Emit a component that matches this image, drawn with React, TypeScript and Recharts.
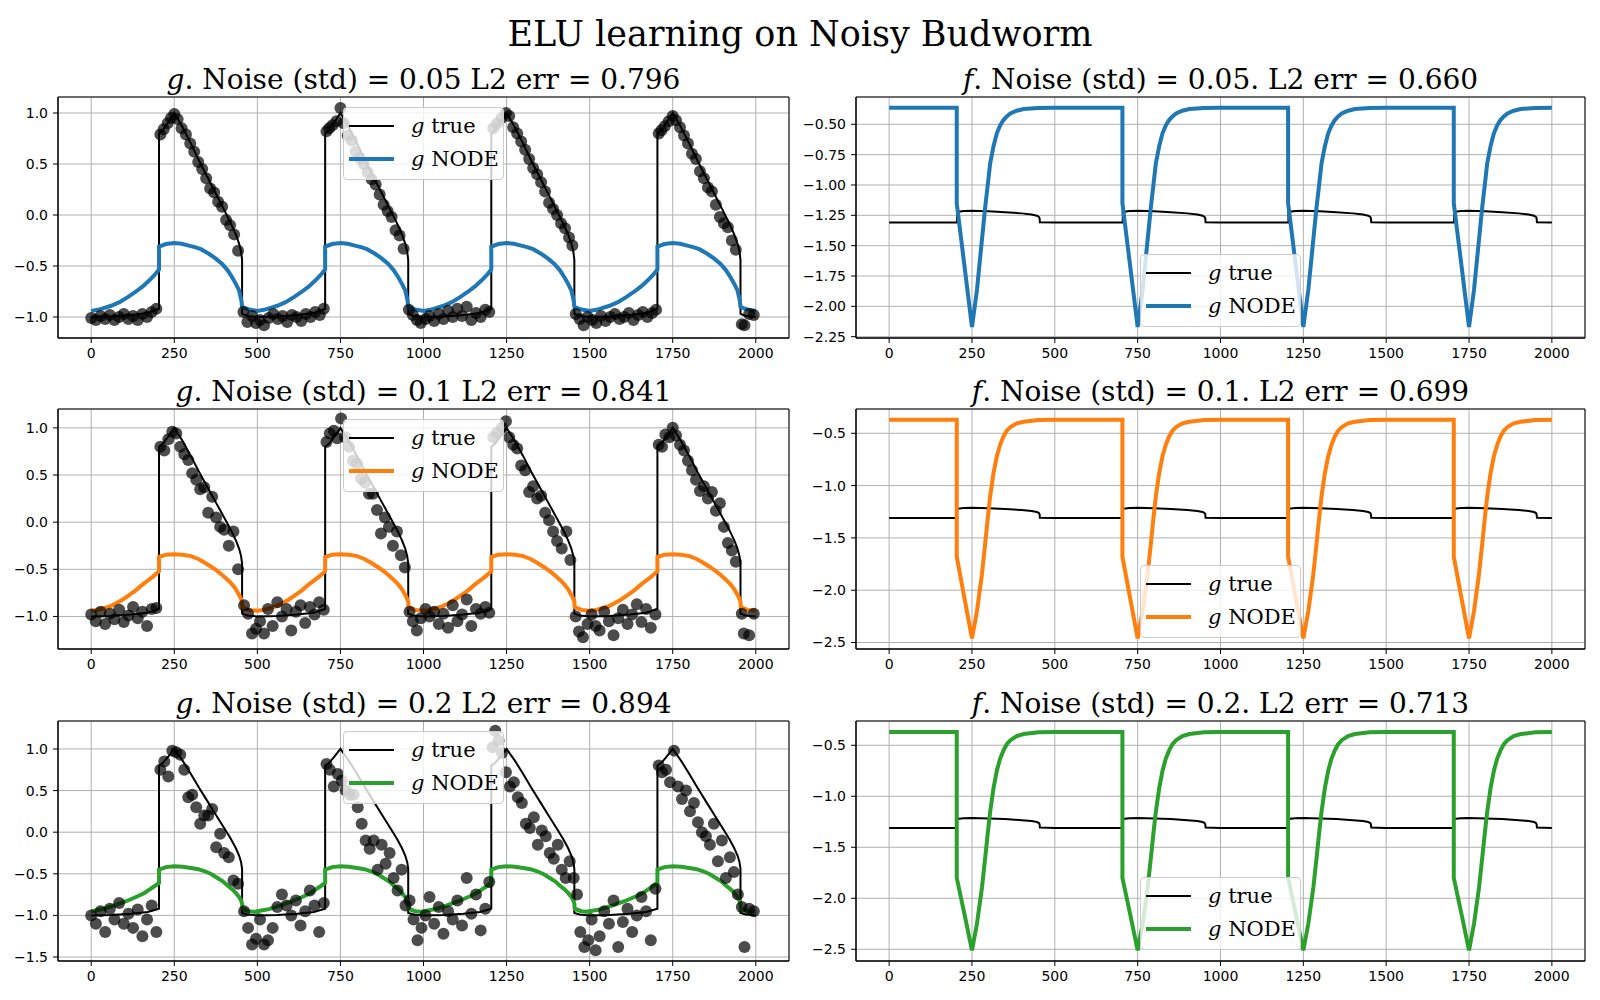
import React from 'react';
import { ComposedChart, Line, Scatter, XAxis, YAxis, CartesianGrid, Legend, ReferenceArea } from 'recharts';

const X_TICKS = [0, 250, 500, 750, 1000, 1250, 1500, 1750, 2000];
const PERIOD_STARTS = [0, 500, 1000, 1500];

const NOISE = ['0.05', '0.1', '0.2'];
const G_ERR = ['0.796', '0.841', '0.894'];
const F_ERR = ['0.660', '0.699', '0.713'];
const NODE_COLORS = ['#1f77b4', '#ff7f0e', '#2ca02c'];

// one period (t in 0..500) of each curve
const G_TRUE_CYCLE = [
  [0, -1.0], [60, -0.995], [120, -0.98], [170, -0.96], [204, -0.92], [204, 0.8], [215, 0.83], [230, 0.9],
  [250, 1.0], [275, 0.86], [300, 0.7], [325, 0.53], [350, 0.37], [375, 0.21], [400, 0.05], [420, -0.08],
  [435, -0.19], [445, -0.28], [451, -0.36], [454, -0.44], [454, -0.97], [470, -0.99], [500, -1.0],
];
const G_NODE_CYCLE_05 = [
  [0, -0.94], [20, -0.93], [35, -0.915], [60, -0.89], [85, -0.855], [110, -0.805], [135, -0.75], [155, -0.7],
  [175, -0.64], [190, -0.59], [204, -0.535], [204, -0.31], [225, -0.285], [250, -0.275], [272, -0.282],
  [294, -0.3], [312, -0.315], [330, -0.335], [354, -0.38], [374, -0.425], [394, -0.48], [410, -0.54],
  [424, -0.61], [436, -0.68], [445, -0.74], [452, -0.84], [454, -0.9], [465, -0.915], [480, -0.93], [500, -0.94],
];
const G_NODE_CYCLE_10 = [
  [0, -0.94], [20, -0.93], [40, -0.91], [58, -0.89], [75, -0.86], [95, -0.82], [115, -0.77], [135, -0.72],
  [155, -0.66], [170, -0.62], [185, -0.58], [204, -0.52], [204, -0.37], [225, -0.345], [250, -0.34], [275, -0.345],
  [300, -0.36], [322, -0.39], [342, -0.43], [362, -0.475], [380, -0.52], [396, -0.565], [410, -0.61], [424, -0.66],
  [435, -0.71], [448, -0.79], [454, -0.84], [455, -0.9], [475, -0.93], [500, -0.94],
];
const G_NODE_CYCLE_20 = [
  [0, -0.95], [35, -0.925], [70, -0.88], [105, -0.83], [140, -0.77], [160, -0.73], [175, -0.69], [190, -0.65],
  [204, -0.61], [204, -0.45], [225, -0.42], [250, -0.41], [275, -0.415], [300, -0.43], [322, -0.445], [342, -0.47],
  [362, -0.505], [380, -0.55], [396, -0.59], [410, -0.64], [424, -0.685], [435, -0.73], [445, -0.78], [451, -0.82],
  [454, -0.86], [455, -0.92], [475, -0.95], [500, -0.96],
];
const F_TRUE_CYCLE = [
  [0, -1.31], [100, -1.31], [205, -1.31], [205, -1.222], [225, -1.215], [250, -1.213], [300, -1.217], [350, -1.224],
  [400, -1.234], [430, -1.243], [446, -1.253], [452, -1.263], [454, -1.275], [455, -1.307], [500, -1.31],
];
const F_NODE_CYCLE_05 = [
  [0, -0.363], [204, -0.363], [204, -1.15], [227, -1.66], [250, -2.17], [265, -1.865], [280, -1.453], [290, -1.18],
  [298, -0.99], [305, -0.82], [315, -0.68], [325, -0.574], [335, -0.51], [345, -0.465], [355, -0.435], [366, -0.41],
  [385, -0.388], [406, -0.374], [450, -0.365], [500, -0.363],
];
const F_NODE_CYCLE_10 = [
  [0, -0.37], [204, -0.37], [204, -1.68], [227, -2.07], [250, -2.46], [265, -2.2], [280, -1.85], [290, -1.55],
  [298, -1.3], [305, -1.1], [315, -0.88], [325, -0.72], [335, -0.61], [345, -0.53], [355, -0.475], [366, -0.44],
  [385, -0.405], [406, -0.39], [450, -0.373], [500, -0.37],
];
const F_NODE_CYCLE_20 = [
  [0, -0.37], [204, -0.37], [204, -1.8], [227, -2.15], [250, -2.51], [265, -2.25], [280, -1.9], [290, -1.6],
  [298, -1.35], [305, -1.15], [315, -0.92], [325, -0.75], [335, -0.63], [345, -0.55], [355, -0.49], [366, -0.45],
  [385, -0.41], [406, -0.39], [450, -0.373], [500, -0.37],
];

// noisy observations
const OBS_05 = [
  [0, -1.01], [14, -1.03], [28, -0.99], [42, -1.02], [56, -0.98], [70, -1.03], [84, -1.0], [98, -0.97], [112, -1.02], [126, -0.99],
  [140, -1.03], [154, -0.97], [168, -1.0], [182, -0.95], [196, -0.92], [208, 0.79], [218, 0.84], [230, 0.9], [240, 0.95], [250, 0.99],
  [260, 0.94], [272, 0.85], [285, 0.79], [298, 0.7], [310, 0.62], [322, 0.52], [334, 0.45], [346, 0.36], [358, 0.26], [370, 0.22],
  [382, 0.13], [394, 0.08], [406, -0.05], [418, -0.1], [430, -0.19], [442, -0.35], [458, -0.95], [470, -1.05], [484, -0.99], [496, -1.06],
  [508, -1.03], [520, -1.08], [534, -1.01], [548, -0.97], [562, -1.02], [576, -0.99], [590, -1.05], [604, -0.98], [618, -1.0], [632, -1.04],
  [646, -0.97], [660, -1.0], [674, -0.95], [688, -0.98], [700, -0.92], [708, 0.82], [716, 0.85], [726, 0.88], [738, 0.92], [750, 1.05],
  [760, 0.9], [772, 0.78], [784, 0.73], [796, 0.62], [808, 0.56], [820, 0.5], [832, 0.42], [844, 0.35], [856, 0.3], [868, 0.2],
  [880, 0.1], [892, 0.04], [904, -0.02], [916, -0.15], [928, -0.2], [940, -0.33], [956, -0.93], [968, -0.98], [980, -1.03], [992, -1.06],
  [1006, -1.02], [1018, -0.99], [1032, -1.04], [1046, -0.97], [1060, -1.02], [1074, -0.94], [1088, -1.0], [1102, -0.92], [1116, -0.99], [1130, -0.9],
  [1144, -1.03], [1158, -0.96], [1172, -1.0], [1186, -0.93], [1198, -0.95], [1210, 0.85], [1222, 0.9], [1235, 0.95], [1248, 1.0], [1258, 0.97],
  [1270, 0.86], [1282, 0.8], [1294, 0.72], [1306, 0.64], [1318, 0.55], [1330, 0.46], [1342, 0.4], [1354, 0.32], [1366, 0.23], [1378, 0.12],
  [1390, 0.06], [1402, 0.0], [1414, -0.08], [1426, -0.13], [1438, -0.22], [1448, -0.3], [1458, -0.97], [1470, -1.02], [1482, -1.08], [1494, -1.0],
  [1508, -1.03], [1520, -1.06], [1534, -0.99], [1548, -1.04], [1562, -1.0], [1576, -0.97], [1590, -1.02], [1604, -1.0], [1618, -0.96], [1632, -1.03],
  [1646, -0.98], [1660, -0.95], [1674, -1.0], [1688, -0.96], [1700, -0.93], [1708, 0.8], [1716, 0.83], [1726, 0.87], [1738, 0.92], [1750, 0.97],
  [1760, 0.93], [1772, 0.86], [1784, 0.78], [1796, 0.7], [1808, 0.6], [1820, 0.55], [1832, 0.43], [1844, 0.36], [1856, 0.27], [1868, 0.23],
  [1880, 0.1], [1892, -0.02], [1904, -0.08], [1916, -0.12], [1928, -0.25], [1940, -0.34], [1958, -1.07], [1966, -1.08], [1980, -0.97], [1994, -0.98],
];
const OBS_10 = [
  [0, -0.98], [14, -1.05], [28, -0.95], [42, -1.08], [56, -0.97], [70, -1.03], [84, -0.93], [98, -1.06], [112, -0.99], [126, -0.9],
  [140, -1.02], [154, -0.95], [168, -1.1], [182, -0.92], [196, -0.91], [208, 0.8], [220, 0.76], [232, 0.88], [244, 0.96], [256, 0.94],
  [268, 0.8], [280, 0.72], [292, 0.66], [304, 0.52], [316, 0.45], [328, 0.35], [340, 0.37], [352, 0.1], [364, 0.27], [376, 0.05],
  [388, -0.05], [400, -0.08], [414, -0.25], [428, -0.1], [442, -0.5], [460, -0.88], [472, -0.97], [484, -1.18], [496, -1.13],
  [508, -1.05], [520, -1.18], [532, -0.92], [546, -1.1], [560, -0.85], [574, -1.0], [588, -0.92], [602, -1.15], [616, -0.95], [630, -0.88],
  [644, -1.07], [658, -0.9], [672, -0.98], [686, -0.85], [700, -0.93], [708, 0.85], [718, 0.94], [730, 0.97], [740, 0.89], [752, 1.1],
  [764, 0.9], [776, 0.8], [788, 0.65], [800, 0.62], [812, 0.46], [824, 0.42], [836, 0.3], [848, 0.3], [860, 0.13], [872, -0.12],
  [884, 0.05], [896, -0.05], [908, -0.25], [920, -0.1], [932, -0.35], [944, -0.48], [958, -0.95], [968, -1.05], [980, -1.15], [992, -1.02],
  [1006, -0.92], [1018, -1.0], [1032, -0.95], [1046, -1.08], [1060, -0.97], [1074, -1.12], [1088, -0.88], [1102, -1.05], [1116, -0.98], [1130, -0.82],
  [1144, -1.1], [1158, -0.92], [1172, -0.97], [1186, -0.9], [1198, -0.96], [1210, 0.9], [1222, 0.95], [1236, 1.0], [1248, 1.07], [1258, 0.9],
  [1270, 0.82], [1282, 0.78], [1294, 0.6], [1306, 0.55], [1318, 0.32], [1330, 0.38], [1342, 0.25], [1354, 0.28], [1366, 0.1], [1378, 0.02],
  [1390, -0.1], [1402, -0.2], [1416, -0.28], [1430, -0.1], [1442, -0.4], [1458, -1.0], [1468, -1.16], [1480, -1.22], [1494, -1.08],
  [1506, -0.98], [1518, -1.1], [1530, -1.15], [1544, -0.95], [1558, -1.05], [1572, -1.2], [1586, -1.02], [1600, -0.93], [1614, -1.08], [1628, -0.98],
  [1642, -0.87], [1656, -1.06], [1670, -0.92], [1684, -1.12], [1698, -0.98], [1708, 0.82], [1718, 0.8], [1728, 0.93], [1740, 0.9], [1750, 1.0],
  [1760, 0.92], [1772, 0.82], [1784, 0.76], [1796, 0.65], [1808, 0.55], [1820, 0.45], [1832, 0.33], [1844, 0.38], [1856, 0.25], [1868, 0.32],
  [1880, 0.12], [1892, 0.2], [1904, -0.05], [1916, -0.22], [1928, -0.3], [1940, -0.42], [1958, -0.97], [1964, -1.18], [1980, -1.2], [1994, -0.97],
];
const OBS_20 = [
  [0, -1.0], [14, -1.1], [28, -0.95], [42, -1.2], [56, -0.92], [70, -1.05], [84, -0.85], [98, -1.1], [112, -0.98], [126, -1.15],
  [140, -0.93], [154, -1.25], [168, -1.05], [182, -0.88], [196, -1.2], [208, 0.75], [220, 0.85], [232, 0.67], [244, 0.98], [256, 0.96],
  [268, 0.93], [280, 0.75], [292, 0.42], [304, 0.45], [316, 0.3], [328, 0.1], [340, 0.2], [352, 0.2], [364, 0.28], [376, -0.18],
  [388, -0.02], [400, -0.25], [414, -0.3], [428, -0.58], [442, -0.62], [460, -0.95], [472, -1.15], [484, -1.35], [496, -1.28],
  [508, -1.05], [520, -1.35], [532, -1.3], [546, -1.15], [560, -0.9], [574, -0.75], [588, -0.88], [602, -1.0], [616, -0.82], [630, -1.12],
  [644, -0.95], [658, -0.7], [672, -0.88], [686, -1.2], [700, -0.85], [708, 0.82], [718, 0.75], [730, 0.55], [742, 0.7], [754, 0.62],
  [766, 0.5], [778, 0.45], [790, 0.45], [802, 0.3], [814, 0.1], [826, -0.1], [838, -0.2], [850, -0.1], [862, -0.45], [874, -0.15],
  [886, -0.38], [898, -0.25], [910, -0.55], [922, -0.7], [934, -0.45], [946, -0.88], [958, -0.82], [970, -1.05], [982, -1.3], [994, -1.15],
  [1006, -1.0], [1018, -0.78], [1032, -1.1], [1046, -0.9], [1060, -1.22], [1074, -0.95], [1088, -1.05], [1102, -0.82], [1116, -1.12], [1130, -0.55],
  [1144, -0.98], [1158, -0.75], [1172, -1.18], [1186, -0.92], [1198, -0.6], [1208, 1.02], [1216, 1.22], [1226, 1.1], [1236, 0.95], [1248, 0.72],
  [1260, 0.55], [1272, 0.6], [1284, 0.42], [1296, 0.35], [1308, 0.1], [1320, 0.05], [1332, 0.18], [1344, -0.15], [1356, 0.02], [1368, -0.05],
  [1380, -0.25], [1392, -0.32], [1404, -0.15], [1416, -0.45], [1428, -0.55], [1440, -0.35], [1452, -0.55], [1462, -0.75], [1472, -1.2], [1484, -1.38], [1496, -1.3],
  [1506, -1.05], [1518, -1.42], [1530, -1.25], [1544, -0.95], [1558, -1.1], [1572, -0.82], [1586, -1.38], [1600, -1.08], [1614, -0.92], [1628, -1.2],
  [1642, -1.0], [1656, -0.78], [1670, -0.95], [1684, -1.3], [1698, -0.68], [1708, 0.8], [1718, 0.72], [1730, 0.75], [1742, 0.6], [1754, 0.98],
  [1766, 0.55], [1778, 0.4], [1790, 0.5], [1802, 0.25], [1814, 0.35], [1826, 0.12], [1838, 0.0], [1850, -0.05], [1862, -0.15], [1874, 0.1],
  [1886, -0.35], [1898, -0.1], [1910, -0.55], [1922, -0.3], [1934, -0.48], [1946, -0.75], [1958, -0.9], [1966, -1.38], [1980, -0.92], [1994, -0.95],
];

const repeatCycle = (cycle: number[][]) =>
  PERIOD_STARTS.flatMap((p) => cycle.map(([t, v]) => ({ t: t + p, v })));
const toPoints = (arr: number[][]) => arr.map(([t, v]) => ({ t, v }));

const G_TRUE = repeatCycle(G_TRUE_CYCLE);
const F_TRUE = repeatCycle(F_TRUE_CYCLE);
const G_NODE = [G_NODE_CYCLE_05, G_NODE_CYCLE_10, G_NODE_CYCLE_20].map(repeatCycle);
const F_NODE = [F_NODE_CYCLE_05, F_NODE_CYCLE_10, F_NODE_CYCLE_20].map(repeatCycle);
const OBS = [OBS_05, OBS_10, OBS_20].map(toPoints);

// layout (pixels) and axis settings
const ROW_TOP = [97, 409, 721];
const ROW_H = [241, 240, 240];
const G_DOMAIN = [[-1.206, 1.157], [-1.345, 1.2], [-1.548, 1.336]];
const G_TICKS = [[-1, -0.5, 0, 0.5, 1], [-1, -0.5, 0, 0.5, 1], [-1.5, -1, -0.5, 0, 0.5, 1]];
const F_DOMAIN = [[-2.261, -0.275], [-2.562, -0.268], [-2.615, -0.262]];
const F_TICKS = [
  [-2.25, -2, -1.75, -1.5, -1.25, -1, -0.75, -0.5],
  [-2.5, -2, -1.5, -1, -0.5],
  [-2.5, -2, -1.5, -1, -0.5],
];
const F_DIGITS = [2, 1, 1];

const SERIF = '"DejaVu Serif", serif';
const SANS = '"DejaVu Sans", sans-serif';

const fmt = (digits: number) => (v: number) =>
  (v < 0 ? '\u2212' : '') + Math.abs(v).toFixed(digits);

const LegendBox = ({ color }: { color: string }) => {
  const row = (top: number, lineColor: string, lineW: number, label: string) => (
    <div style={{ position: 'absolute', left: 0, top: top - 11, height: 22, width: '100%' }}>
      <div style={{ position: 'absolute', left: 5, top: 11 - lineW / 2, width: 45, height: lineW, background: lineColor }} />
      <div style={{ position: 'absolute', left: 67, top: 0, lineHeight: '22px', whiteSpace: 'nowrap', color: '#000' }}>
        <i>g</i> {label}
      </div>
    </div>
  );
  return (
    <div
      style={{
        position: 'relative', width: 161, height: 73, boxSizing: 'border-box',
        border: '1px solid #cccccc', borderRadius: 4, background: 'rgba(255,255,255,0.8)',
        fontFamily: SERIF, fontSize: 21,
      }}
    >
      {row(18, '#000', 2, 'true')}
      {row(51, color, 4, 'NODE')}
    </div>
  );
};

interface PanelProps {
  left: number;
  top: number;
  yWidth: number;
  plotW: number;
  plotH: number;
  domain: number[];
  ticks: number[];
  digits: number;
  trueData: { t: number; v: number }[];
  nodeData: { t: number; v: number }[];
  points?: { t: number; v: number }[];
  color: string;
  legendLeft: number;
  legendTop: number;
}

const Panel: React.FC<PanelProps> = ({
  left, top, yWidth, plotW, plotH, domain, ticks, digits, trueData, nodeData, points, color, legendLeft, legendTop,
}) => {
  const margin = { top: 5, right: 10, bottom: 0, left: 0 };
  const xH = 30;
  const tickStyle = { fill: '#000', fontSize: 14, fontFamily: SANS };
  return (
    <div style={{ position: 'absolute', left, top: top - margin.top }}>
      <ComposedChart
        width={yWidth + plotW + margin.right}
        height={margin.top + plotH + xH}
        margin={margin}
      >
        <CartesianGrid stroke="#b0b0b0" strokeWidth={1} />
        <XAxis
          type="number"
          dataKey="t"
          domain={[-100, 2100]}
          ticks={X_TICKS}
          interval={0}
          allowDataOverflow
          height={xH}
          tickSize={5}
          tickMargin={5}
          tick={tickStyle}
          stroke="#000"
        />
        <YAxis
          type="number"
          dataKey="v"
          domain={domain}
          ticks={ticks}
          interval={0}
          allowDataOverflow
          width={yWidth}
          tickSize={5}
          tickMargin={5}
          tick={tickStyle}
          tickFormatter={fmt(digits)}
          stroke="#000"
        />
        {points && (
          <Scatter
            data={points}
            isAnimationActive={false}
            shape={(p: any) => <circle cx={p.cx} cy={p.cy} r={6} fill="#000" fillOpacity={0.7} />}
          />
        )}
        <Line data={trueData} dataKey="v" type="linear" stroke="#000" strokeWidth={2} dot={false} isAnimationActive={false} />
        <Line data={nodeData} dataKey="v" type="linear" stroke={color} strokeWidth={4} dot={false} isAnimationActive={false} />
        <ReferenceArea
          x1={-100}
          x2={2100}
          y1={domain[0]}
          y2={domain[1]}
          fill="none"
          stroke="#000"
          strokeWidth={1}
          ifOverflow="visible"
        />
        <Legend
          layout="horizontal"
          verticalAlign="middle"
          align="center"
          wrapperStyle={{ left: legendLeft, top: legendTop, width: 161 }}
          content={() => <LegendBox color={color} />}
        />
      </ComposedChart>
    </div>
  );
};

export default function App() {
  return (
    <div style={{ position: 'absolute', left: 0, top: 0, width: 1600, height: 1000, background: '#fff', overflow: 'hidden' }}>
      <svg width={1600} height={1000} style={{ position: 'absolute', left: 0, top: 0 }}>
        <text x={800} y={46} textAnchor="middle" fontFamily={SERIF} fontSize={35} fill="#000">
          ELU learning on Noisy Budworm
        </text>
        {ROW_TOP.map((rt, i) => (
          <React.Fragment key={i}>
            <text x={423.5} y={rt - 8} textAnchor="middle" fontFamily={SERIF} fontSize={28} fill="#000">
              <tspan fontStyle="italic">g</tspan>
              <tspan>{`. Noise (std) = ${NOISE[i]} L2 err = ${G_ERR[i]}`}</tspan>
            </text>
            <text x={1220.5} y={rt - 8} textAnchor="middle" fontFamily={SERIF} fontSize={28} fill="#000">
              <tspan fontStyle="italic">f</tspan>
              <tspan>{`. Noise (std) = ${NOISE[i]}. L2 err = ${F_ERR[i]}`}</tspan>
            </text>
          </React.Fragment>
        ))}
      </svg>
      {ROW_TOP.map((rt, i) => (
        <React.Fragment key={i}>
          <Panel
            left={0}
            top={rt}
            yWidth={58}
            plotW={731}
            plotH={ROW_H[i]}
            domain={G_DOMAIN[i]}
            ticks={G_TICKS[i]}
            digits={1}
            trueData={G_TRUE}
            nodeData={G_NODE[i]}
            points={OBS[i]}
            color={NODE_COLORS[i]}
            legendLeft={343}
            legendTop={15}
          />
          <Panel
            left={786}
            top={rt}
            yWidth={70}
            plotW={729}
            plotH={ROW_H[i]}
            domain={F_DOMAIN[i]}
            ticks={F_TICKS[i]}
            digits={F_DIGITS[i]}
            trueData={F_TRUE}
            nodeData={F_NODE[i]}
            color={NODE_COLORS[i]}
            legendLeft={354}
            legendTop={ROW_H[i] - 79}
          />
        </React.Fragment>
      ))}
    </div>
  );
}
